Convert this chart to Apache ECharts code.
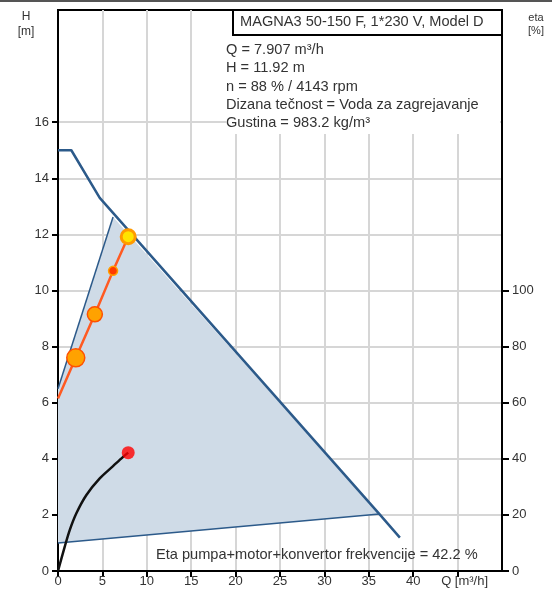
<!DOCTYPE html>
<html>
<head>
<meta charset="utf-8">
<script src="https://cdn.jsdelivr.net/npm/echarts@6/dist/echarts.min.js"></script>
<style>
html,body{margin:0;padding:0;background:#fff;}
#c{width:552px;height:592px;}
</style>
</head>
<body>
<div id="c"></div>
<script>
// ---- data ----
const xTickValues = [0, 5, 10, 15, 20, 25, 30, 35, 40, 45];
const hTickValues = [0, 2, 4, 6, 8, 10, 12, 14, 16];
const etaTickValues = [0, 20, 40, 60, 80, 100];
const xUnitLabel = 'Q [m³/h]';

const maxCurveQ = [0, 1.5, 4.7, 36.2, 38.5];
const maxCurveH = [15.0, 15.0, 13.3, 2.03, 1.19];

const minCurveQ = [0, 6.2];
const minCurveH = [6.5, 12.62];

const lowCurveQ = [0, 36.2];
const lowCurveH = [1.0, 2.03];

const areaQ = [0, 0, 6.2, 36.2];
const areaH = [1.0, 6.5, 12.62, 2.03];

const sysCurveQ = [0, 2.0, 4.15, 6.2, 7.907];
const sysCurveH = [6.15, 7.6, 9.15, 10.7, 11.92];

const etaQ = [0, 0.76, 1.32, 2.07, 3.2, 4.7, 6.2, 7.33, 7.907];
const etaVal = [0, 8.7, 14.6, 20.6, 27.1, 33.0, 37.4, 40.7, 42.2];

const titleText = 'MAGNA3 50-150 F, 1*230 V, Model D';
const infoLines = [
  'Q = 7.907 m³/h',
  'H = 11.92 m',
  'n = 88 % / 4143 rpm',
  'Dizana tečnost = Voda za zagrejavanje',
  'Gustina = 983.2 kg/m³'
];
const etaText = 'Eta pumpa+motor+konvertor frekvencije = 42.2 %';

// ---- styles ----
const FONT = '"Liberation Sans", Arial, sans-serif';
const TXT = '#333';
const BLUE = '#2c5a8a';
const markerStyles = [
  null,
  {size: 18, fill: '#ffa200', border: '#ff5000', bw: 1.5},
  {size: 15, fill: '#ffa200', border: '#ff5000', bw: 1.5},
  {size: 9,  fill: '#ff3a00', border: '#ffa000', bw: 1.5},
  {size: 14, fill: '#ffe400', border: '#ff9a00', bw: 3}
];

function pairs(a, b) { return a.map((v, i) => [v, b[i]]); }

const chart = echarts.init(document.getElementById('c'), null, {renderer: 'canvas'});

const sysData = sysCurveQ.map((q, i) => {
  const st = markerStyles[i];
  if (!st) return {value: [q, sysCurveH[i]], symbol: 'none'};
  return {
    value: [q, sysCurveH[i]],
    symbolSize: st.size,
    itemStyle: {color: st.fill, borderColor: st.border, borderWidth: st.bw}
  };
});

const option = {
  animation: false,
  backgroundColor: '#fff',
  grid: {left: 58, right: 50, top: 10, bottom: 21, show: true, borderColor: '#000', borderWidth: 2, backgroundColor: 'transparent'},
  xAxis: {
    type: 'value', min: 0, max: 50, interval: 5,
    axisLine: {show: true, lineStyle: {color: '#000', width: 2}},
    axisTick: {show: true, length: 6, customValues: xTickValues, lineStyle: {color: '#000', width: 2}},
    axisLabel: {
      customValues: xTickValues, margin: 4, color: TXT, fontFamily: FONT, fontSize: 13,
      formatter: v => v === 45 ? '{q|' + xUnitLabel + '}' : String(v),
      rich: {q: {padding: [0, 0, 0, 14], color: TXT, fontFamily: FONT, fontSize: 13}}
    },
    splitLine: {show: true, lineStyle: {color: '#d6d6d6', width: 2}}
  },
  yAxis: [
    {
      type: 'value', min: 0, max: 20, interval: 2,
      axisLine: {show: true, lineStyle: {color: '#000', width: 2}},
      axisTick: {show: true, length: 6, customValues: hTickValues, lineStyle: {color: '#000', width: 2}},
      axisLabel: {customValues: hTickValues, margin: 9, color: TXT, fontFamily: FONT, fontSize: 13},
      splitLine: {show: true, lineStyle: {color: '#d6d6d6', width: 2}}
    },
    {
      type: 'value', min: 0, max: 200, interval: 20, position: 'right',
      axisLine: {show: true, lineStyle: {color: '#000', width: 2}},
      axisTick: {show: true, length: 7, customValues: etaTickValues, lineStyle: {color: '#000', width: 2}},
      axisLabel: {customValues: etaTickValues, margin: 10, color: TXT, fontFamily: FONT, fontSize: 13},
      splitLine: {show: false}
    }
  ],
  series: [
    {
      type: 'custom', z: 1,
      data: pairs(areaQ, areaH),
      renderItem: function (params, api) {
        if (params.dataIndex !== 0) return null;
        const pts = areaQ.map((q, i) => api.coord([q, areaH[i]]));
        return {type: 'polygon', shape: {points: pts}, style: {fill: '#cfdbe7', stroke: null}};
      }
    },
    {type: 'line', data: pairs(lowCurveQ, lowCurveH), symbol: 'none', lineStyle: {color: BLUE, width: 1.5}, z: 3},
    {type: 'line', data: pairs(minCurveQ, minCurveH), symbol: 'none', lineStyle: {color: BLUE, width: 1.5}, z: 3},
    {type: 'line', data: pairs(maxCurveQ, maxCurveH), symbol: 'none', lineStyle: {color: BLUE, width: 2.5, join: 'round'}, z: 4},
    {
      type: 'line', data: pairs(etaQ, etaVal), yAxisIndex: 1, symbol: 'none', smooth: 0.3,
      lineStyle: {color: '#111', width: 2.5}, z: 5
    },
    {
      type: 'scatter', data: [[etaQ[etaQ.length - 1], etaVal[etaVal.length - 1]]], yAxisIndex: 1,
      symbolSize: 13, itemStyle: {color: '#ff0000'}, z: 6
    },
    {
      type: 'line', data: sysData, symbol: 'circle', showSymbol: true,
      lineStyle: {color: '#ff5a22', width: 2.5}, z: 7
    }
  ],
  graphic: [
    {type: 'rect', z: 100, shape: {x: 0, y: 0, width: 552, height: 2}, style: {fill: '#555'}},
    {type: 'rect', z: 100, shape: {x: 226, y: 36, width: 274, height: 98}, style: {fill: '#fff'}},
    {type: 'rect', z: 101, shape: {x: 233, y: 10, width: 269, height: 25}, style: {fill: '#fff', stroke: '#000', lineWidth: 2}},
    {type: 'text', z: 102, x: 240, y: 22, style: {text: titleText, fill: TXT, font: '14.6px ' + FONT, textVerticalAlign: 'middle'}},
    ...infoLines.map((t, i) => ({
      type: 'text', z: 102, x: 226, y: 50 + i * 18.3,
      style: {text: t, fill: TXT, font: '14.6px ' + FONT, textVerticalAlign: 'middle'}
    })),
    {type: 'text', z: 102, x: 156, y: 555, style: {text: etaText, fill: TXT, font: '14.6px ' + FONT, textVerticalAlign: 'middle'}},
    {type: 'text', z: 102, x: 26, y: 17, style: {text: 'H', fill: TXT, font: '12px ' + FONT, textAlign: 'center', textVerticalAlign: 'middle'}},
    {type: 'text', z: 102, x: 26, y: 32, style: {text: '[m]', fill: TXT, font: '12px ' + FONT, textAlign: 'center', textVerticalAlign: 'middle'}},
    {type: 'text', z: 102, x: 536, y: 18, style: {text: 'eta', fill: TXT, font: '11px ' + FONT, textAlign: 'center', textVerticalAlign: 'middle'}},
    {type: 'text', z: 102, x: 536, y: 31, style: {text: '[%]', fill: TXT, font: '11px ' + FONT, textAlign: 'center', textVerticalAlign: 'middle'}}
  ]
};
chart.setOption(option);
</script>
</body>
</html>
